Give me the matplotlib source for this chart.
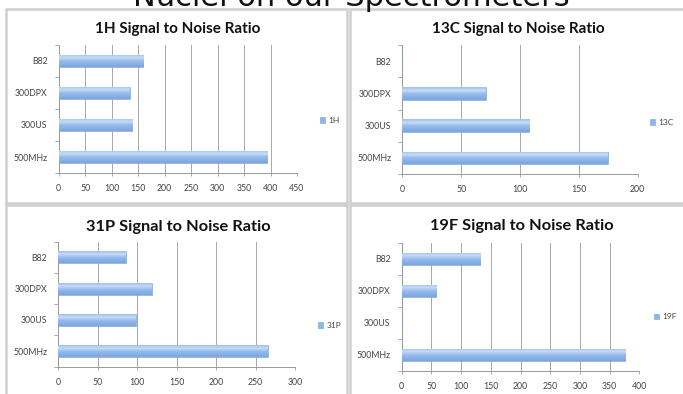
import numpy as np
import matplotlib.pyplot as plt
from matplotlib.patches import Rectangle

# Categories from bottom to top, as drawn in the chart
instruments = ['500MHz', '300US', '300DPX', 'B82']

h1 = [393, 138, 134, 160]
c13 = [175, 108, 71, np.nan]
p31 = [266, 98, 119, 86]
f19 = [376, np.nan, 58, 132]

W, H = 683, 394
BAR_EDGE = '#7aa2d6'
TITLE_FONT = ['Lato', 'DejaVu Sans']

# vertical gradient used to fill the bars (bottom -> top)
grad_colors = np.array([[0.49, 0.65, 0.87], [0.58, 0.73, 0.92], [0.78, 0.86, 0.97], [0.62, 0.76, 0.93]])
grad = np.zeros((32, 1, 3))
for c in range(3):
    grad[:, 0, c] = np.interp(np.linspace(0, 1, 32), [0, 0.45, 0.75, 1], grad_colors[:, c])


def px_box(x0, y0, x1, y1):
    # pixel box (top-left origin) -> figure fraction rect
    return [x0 / W, 1 - y1 / H, (x1 - x0) / W, (y1 - y0) / H]


def panel(fig, rect, values, name, xmax, step, title, title_xy, title_size, legend_xy):
    ax = fig.add_axes(px_box(*rect))
    y = np.arange(len(instruments))
    vals = np.nan_to_num(np.asarray(values, dtype=float))
    bars = ax.barh(y, vals, height=0.38, color='#8fb5e6', edgecolor=BAR_EDGE,
                   linewidth=0.4, zorder=3, label=name)
    for b in bars:
        x0, y0 = b.get_x(), b.get_y()
        if b.get_width() <= 0:
            continue
        im = ax.imshow(grad, extent=(x0, x0 + b.get_width(), y0, y0 + b.get_height()),
                       origin='lower', aspect='auto', zorder=3.5, interpolation='bilinear')
        im.set_clip_path(b)

    ax.set_xlim(0, xmax)
    ax.set_ylim(-0.5, len(instruments) - 0.5)
    ax.set_xticks(np.arange(0, xmax + 1, step))
    ax.set_yticks(y)
    ax.set_yticklabels(instruments)
    ax.set_yticks(np.arange(-0.5, len(instruments)), minor=True)
    ax.tick_params(axis='y', which='major', length=0, pad=8, labelsize=6.3, labelcolor='#444444')
    ax.tick_params(axis='y', which='minor', length=3, color='#999999', width=0.6)
    ax.tick_params(axis='x', length=2, color='#999999', width=0.6, labelsize=6.3, labelcolor='#444444', pad=6)
    ax.grid(axis='x', color='#a8a8a8', linewidth=0.7, zorder=0)
    for s in ('top', 'right'):
        ax.spines[s].set_visible(False)
    for s in ('left', 'bottom'):
        ax.spines[s].set_color('#999999')
        ax.spines[s].set_linewidth(0.7)
    for lab in ax.get_xticklabels() + ax.get_yticklabels():
        lab.set_family(TITLE_FONT)

    handles, labels = ax.get_legend_handles_labels()
    leg = ax.legend(handles[:1], labels[:1], loc='center left', bbox_to_anchor=legend_xy,
                    frameon=False, handlelength=0.6, handleheight=0.6, handletextpad=0.4,
                    borderpad=0, fontsize=6, labelcolor='#444444')
    for t in leg.get_texts():
        t.set_family(TITLE_FONT)

    fig.text(title_xy[0] / W, 1 - title_xy[1] / H, title, ha='center', va='baseline',
             fontsize=title_size, fontweight='bold', family=TITLE_FONT, color='#111111')
    return ax


fig = plt.figure(figsize=(W / 100, H / 100), dpi=100)

# panel frames
for x0, y0, x1, y1 in [(6, 9, 347, 203), (350, 9, 700, 203), (6, 205, 347, 420), (350, 205, 700, 420)]:
    fig.add_artist(Rectangle((x0 / W, 1 - y1 / H), (x1 - x0) / W, (y1 - y0) / H,
                             transform=fig.transFigure, facecolor='white',
                             edgecolor='#cfcfcf', linewidth=1.8, zorder=0))

panel(fig, (58.7, 45, 297, 173), h1, '1H', 450, 50,
      '1H Signal to Noise Ratio', (178, 33), 11, (1.08, 0.41))
panel(fig, (402.3, 45, 637.7, 174), c13, '13C', 200, 50,
      '13C Signal to Noise Ratio', (518, 33), 11, (1.035, 0.40))
panel(fig, (58.3, 241.7, 295, 366.7), p31, '31P', 300, 50,
      '31P Signal to Noise Ratio', (178, 231), 11.8, (1.08, 0.33))
panel(fig, (401.7, 242.7, 639.3, 370.7), f19, '19F', 400, 50,
      '19F Signal to Noise Ratio', (522, 230), 11.8, (1.045, 0.42))

fig.text(351 / W, 1 - 6 / H, 'Nuclei on our Spectrometers', ha='center', va='baseline',
         fontsize=22, family='DejaVu Sans', color='#111111')

fig.savefig('out.png', dpi=100)
